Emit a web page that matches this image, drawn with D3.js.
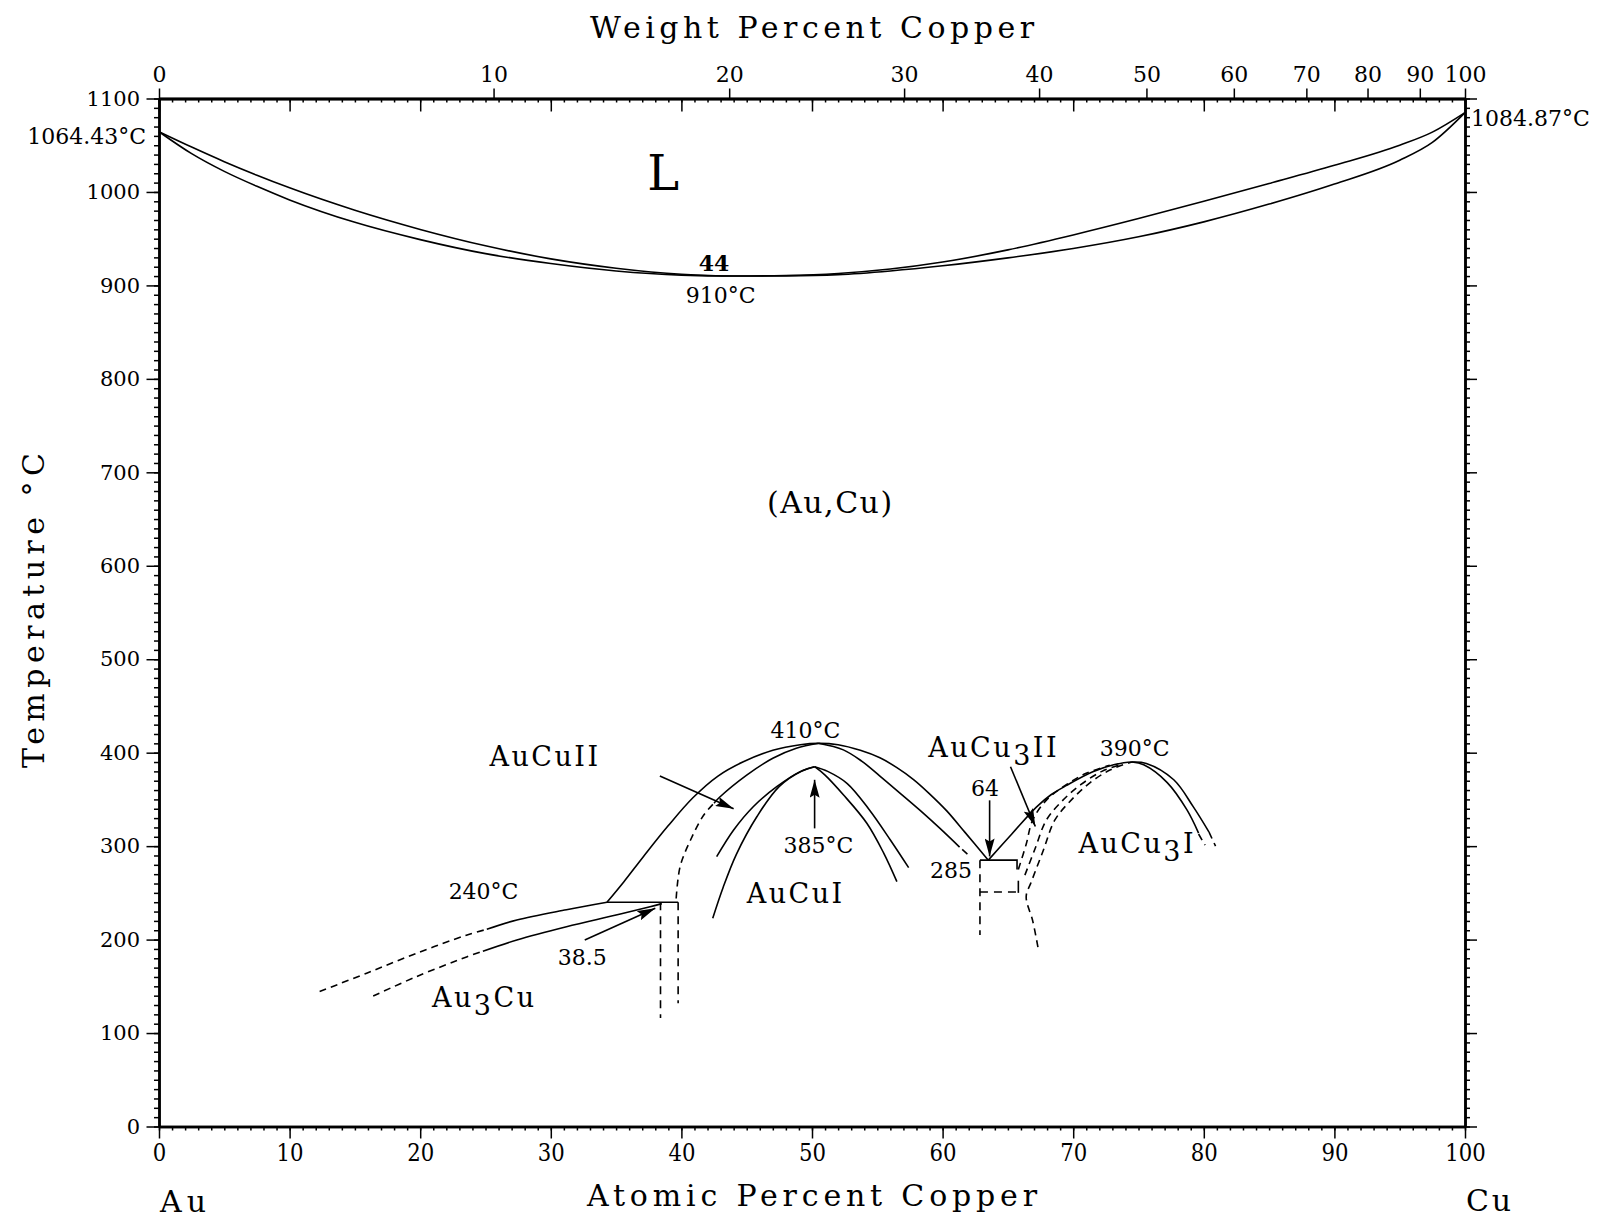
<!DOCTYPE html>
<html>
<head>
<meta charset="utf-8">
<script src="https://cdn.jsdelivr.net/npm/d3@7"></script>
<style>
  body { margin: 0; background: #fff; }
  svg { display: block; background: #fff; }
  text { font-family: "DejaVu Serif", serif; fill: #000; }
</style>
</head>
<body>
<div id="chart"></div>
<script>
// all points are [atomic % Cu, temperature °C]

// liquidus and solidus
const liquidus = [[0,1064.43],[2.5,1048],[5,1032.4],[7.5,1017.9],[10,1004.4],[15,980.4],[20,959.9],[25,942.4],[30,928.4],[35,918.4],[40,911.9],[44,910],[48,910.6],[52,912.8],[56,917.5],[60,925],[65,938],[70,954],[75,971.5],[80,990],[85,1009],[90,1028.5],[95,1050],[97.5,1064],[100,1084.87]];
const solidus = [[0,1064.43],[2.5,1041],[5,1022],[7.5,1006],[10,991.5],[15,967.5],[20,949],[25,934],[30,923.5],[35,915.5],[40,911],[44,910],[48,910.2],[52,911.5],[56,915.5],[60,921],[65,929.5],[70,939.5],[75,952],[80,968],[85,987],[90,1008.5],[95,1034],[97.5,1053],[100,1084.87]];

// Au3Cu
const au3cuUpperDash = [[12.3,144.5],[15.9,164],[19.7,185.3],[23.6,205],[25.1,211]];
const au3cuUpper = [[25.1,211],[27.4,221],[31.2,232],[34.3,240]];
const au3cuLowerDash = [[16.4,139.6],[19.7,160.3],[23.6,181.7],[24.8,187.5]];
const au3cuLower = [[24.8,187.5],[27.4,199.6],[31.2,213.8],[35.0,226.3],[37.6,235.2],[38.5,238.5]];
const line240 = [[34.3,240],[39.75,240]];
const au3cuLeftWall = [[38.4,240],[38.4,116]];
const au3cuRightWall = [[39.75,240],[39.75,132]];

// AuCu II / AuCu I
const aucuIIOuter = [[34.3,240],[35.6,262],[37.1,289],[39.0,322],[40.9,352],[42.8,375],[44.7,390],[47.0,402.5],[49.1,408.5],[50.5,410],[52.0,408.5],[53.7,402.5],[55.2,394.5],[56.5,384],[57.8,371],[59.0,356],[60.3,338],[61.7,315],[63.5,285]];
const aucuIIInnerLeftDash = [[39.6,244],[39.9,278],[40.7,306.6],[41.7,333],[42.5,346]];
const aucuIIInnerLeft = [[42.5,346],[42.9,352],[45.0,376],[47.0,394],[48.8,404.7],[50.5,410]];
const aucuIIInnerRight = [[50.5,410],[52.4,403],[53.8,391],[55.2,375],[56.8,356],[58.3,338],[59.8,319],[61.3,299]];
const aucuIIInnerRightDash = [[61.5,296.5],[62.1,289]];
const aucuILeftA = [[42.7,288.7],[44.0,317.3],[45.5,342.2],[47.3,363.6],[49.1,379.7],[50.2,385]];
const aucuILeftB = [[42.4,222.8],[43.2,256],[44.2,291],[45.8,332],[47.5,364],[49.3,381],[50.2,385]];
const aucuIRightOuter = [[50.2,385],[51.2,380],[52.7,367],[54.4,338.7],[56.0,306.6],[57.4,277]];
const aucuIRightInner = [[50.2,385],[51.0,376],[52.4,355],[54.2,324.5],[55.5,292.3],[56.5,262]];

// 285 °C box
const box285 = [[62.86,285],[65.7,285],[65.7,275]];
const box285LeftDash = [[62.86,285],[62.86,205]];
const box285MidDash = [[62.86,251],[65.8,251]];
const box285Tick = [[65.8,263],[65.8,250]];

// AuCu3
const aucu3Outer = [[63.5,285],[65.3,313],[67.2,342],[68.3,355],[69.5,365],[71.5,379.5],[73.1,387],[74.5,390],[75.6,388.5],[77.7,371],[79.2,342],[80.4,315]];
const aucu3OuterDash = [[80.4,315],[80.9,300]];
const aucu3Inner = [[74.5,390],[75.4,387],[77.2,368],[78.7,339],[79.6,314]];
const aucu3InnerDash = [[79.6,313],[80.1,301]];
const aucu3DashB = [[65.8,275],[66.4,302],[66.9,328],[68.0,350],[69.5,366],[71.0,378],[72.8,386.5]];
const aucu3DashC = [[66.3,269],[67.1,298],[67.95,328],[69.2,349],[70.6,366],[72.2,380],[73.8,388]];
const aucu3DashD = [[67.3,192],[66.9,220],[66.4,246],[66.8,262],[67.7,295],[68.6,328],[69.9,350],[71.3,368],[72.9,382],[74.5,390]];

// arrows: [from, to]
const arrows = [
  [[38.35,375],[44.0,340]],
  [[50.2,319],[50.2,371]],
  [[32.6,199.6],[38.0,233.5]],
  [[65.2,385],[67.1,321]],
  [[63.6,349],[63.6,289]]
];

// labels: text ("_" marks a subscript digit), at %, temperature, anchor
const phaseLabels = [
  ["L", 38.6, 1002, "middle"],
  ["(Au,Cu)", 51.4, 656.5, "middle"],
  ["AuCuII", 25.3, 385.8, "start"],
  ["AuCuI", 45.0, 239.2, "start"],
  ["Au_3Cu", 20.9, 128.2, "start"],
  ["AuCu_3II", 58.9, 395.7, "start"],
  ["AuCu_3I", 70.4, 292.3, "start"]
];
const valueLabels = [
  ["44", 42.5, 915.5, "middle"],
  ["910°C", 43.0, 881, "middle"],
  ["240°C", 24.85, 243.5, "middle"],
  ["38.5", 32.4, 172.8, "middle"],
  ["410°C", 49.5, 415.7, "middle"],
  ["385°C", 50.5, 292.7, "middle"],
  ["64", 63.25, 353.7, "middle"],
  ["285", 62.25, 266, "end"],
  ["390°C", 74.7, 396.5, "middle"]
];
const meltAu = 1064.43;
const meltCu = 1084.87;

// ticks
const atTicks = [0,10,20,30,40,50,60,70,80,90,100];
const wtTicks = [0,10,20,30,40,50,60,70,80,90,100];
const tempTicks = [0,100,200,300,400,500,600,700,800,900,1000,1100];

const size = { width: 1604, height: 1219 };
const margin = { left: 159, right: 139, top: 98.5, bottom: 92.5 };

const svg = d3.select("#chart").append("svg")
  .attr("width", size.width)
  .attr("height", size.height);

const x = d3.scaleLinear().domain([0, 100]).range([margin.left, size.width - margin.right]);
const y = d3.scaleLinear().domain([0, 1100]).range([size.height - margin.bottom, margin.top]);

// weight % -> atomic % Cu, for the top axis
const wtToAt = (w) => {
  const cu = w / 63.546, au = (100 - w) / 196.967;
  return 100 * cu / (cu + au);
};

const minorAt = d3.range(0, 101, 1);
const minorT = d3.range(0, 1101, 10);

const styleAxis = (g, fontSize) => {
  g.select(".domain").attr("stroke-width", 2.5);
  g.selectAll(".tick line").attr("stroke-width", 1.5);
  g.selectAll("text").style("font-size", fontSize + "px");
};

// bottom axis
svg.append("g").attr("transform", `translate(0,${y(0)})`)
  .call(d3.axisBottom(x).tickValues(minorAt).tickSize(4).tickSizeOuter(0).tickFormat(""))
  .call(styleAxis, 10);
const bottomAxis = svg.append("g").attr("transform", `translate(0,${y(0)})`)
  .call(d3.axisBottom(x).tickValues(atTicks).tickSize(12).tickSizeOuter(0).tickPadding(5))
  .call(styleAxis, 25);
bottomAxis.selectAll("text")
  .attr("textLength", (d) => String(d).length * 13.5)
  .attr("lengthAdjust", "spacingAndGlyphs");

// top axis: minor/medium atomic % ticks inside, weight % labels outside
svg.append("g").attr("transform", `translate(0,${y(1100)})`)
  .call(d3.axisBottom(x).tickValues(minorAt).tickSize(4).tickSizeOuter(0).tickFormat(""))
  .call(styleAxis, 10);
svg.append("g").attr("transform", `translate(0,${y(1100)})`)
  .call(d3.axisBottom(x).tickValues(atTicks).tickSize(13).tickSizeOuter(0).tickFormat(""))
  .call(styleAxis, 10);
svg.append("g").attr("transform", `translate(0,${y(1100)})`)
  .call(d3.axisTop(x).tickValues(wtTicks.map(wtToAt)).tickSize(10).tickSizeOuter(0).tickPadding(7)
    .tickFormat((d, i) => wtTicks[i]))
  .call(styleAxis, 22);

// left axis
svg.append("g").attr("transform", `translate(${x(0)},0)`)
  .call(d3.axisLeft(y).tickValues(minorT).tickSize(5).tickSizeOuter(0).tickFormat(""))
  .call(styleAxis, 10);
svg.append("g").attr("transform", `translate(${x(0)},0)`)
  .call(d3.axisLeft(y).tickValues(tempTicks).tickSize(12.5).tickSizeOuter(0).tickPadding(6.5)
    .tickFormat(d3.format("d")))
  .call(styleAxis, 21);

// right axis
svg.append("g").attr("transform", `translate(${x(100)},0)`)
  .call(d3.axisRight(y).tickValues(minorT).tickSize(5).tickSizeOuter(0).tickFormat(""))
  .call(styleAxis, 10);
svg.append("g").attr("transform", `translate(${x(100)},0)`)
  .call(d3.axisRight(y).tickValues(tempTicks).tickSize(12).tickSizeOuter(0).tickFormat(""))
  .call(styleAxis, 10);

// axis titles
svg.append("text").attr("x", 590).attr("y", 38)
  .attr("textLength", 444).attr("lengthAdjust", "spacing")
  .style("font-size", "30px").text("Weight Percent Copper");
svg.append("text").attr("x", 587).attr("y", 1206)
  .attr("textLength", 450).attr("lengthAdjust", "spacing")
  .style("font-size", "30px").text("Atomic Percent Copper");
svg.append("text").attr("transform", "translate(44,610.5) rotate(-90)")
  .attr("text-anchor", "middle")
  .attr("textLength", 315).attr("lengthAdjust", "spacing")
  .style("font-size", "30px").text("Temperature °C");
svg.append("text").attr("x", x(0) + 1).attr("y", 1212)
  .attr("textLength", 46).attr("lengthAdjust", "spacing")
  .style("font-size", "30px").text("Au");
svg.append("text").attr("x", x(100) + 1).attr("y", 1211)
  .attr("textLength", 45).attr("lengthAdjust", "spacing")
  .style("font-size", "30px").text("Cu");

// melting points
svg.append("text").attr("x", x(0) - 13).attr("y", y(meltAu) + 12)
  .attr("text-anchor", "end").style("font-size", "22px")
  .text(meltAu.toFixed(2) + "°C");
svg.append("text").attr("x", x(100) + 6).attr("y", y(meltCu) + 13)
  .style("font-size", "22px")
  .text(meltCu.toFixed(2) + "°C");

// phase boundaries
const curve = d3.line().x((d) => x(d[0])).y((d) => y(d[1])).curve(d3.curveCatmullRom.alpha(0.5));
const smooth = d3.line().x((d) => x(d[0])).y((d) => y(d[1])).curve(d3.curveMonotoneX);
const straight = d3.line().x((d) => x(d[0])).y((d) => y(d[1]));

const meltCurves = [liquidus, solidus];
const solidCurves = [au3cuUpper, au3cuLower, aucuIIOuter, aucuIIInnerLeft,
  aucuIIInnerRight, aucuILeftA, aucuILeftB, aucuIRightOuter, aucuIRightInner, aucu3Outer, aucu3Inner];
const dashedCurves = [au3cuUpperDash, au3cuLowerDash, aucuIIInnerLeftDash, aucuIIInnerRightDash,
  aucu3OuterDash, aucu3InnerDash, aucu3DashB, aucu3DashC, aucu3DashD];
const solidStraight = [line240, box285, box285Tick];
const dashedStraight = [au3cuLeftWall, au3cuRightWall, box285LeftDash, box285MidDash];

const lines = svg.append("g").attr("fill", "none").attr("stroke", "#000").attr("stroke-width", 1.6);
lines.selectAll(".meltCurve").data(meltCurves).join("path")
  .attr("class", "meltCurve").attr("d", smooth);
lines.selectAll(".solidCurve").data(solidCurves).join("path")
  .attr("class", "solidCurve").attr("d", curve);
lines.selectAll(".dashedCurve").data(dashedCurves).join("path")
  .attr("class", "dashedCurve").attr("stroke-dasharray", "7,5").attr("d", curve);
lines.selectAll(".solidStraight").data(solidStraight).join("path")
  .attr("class", "solidStraight").attr("d", straight);
lines.selectAll(".dashedStraight").data(dashedStraight).join("path")
  .attr("class", "dashedStraight").attr("stroke-dasharray", "8,6").attr("d", straight);

// arrows
svg.append("defs").append("marker")
  .attr("id", "head").attr("viewBox", "0 0 18 10").attr("refX", 18).attr("refY", 5)
  .attr("markerWidth", 18).attr("markerHeight", 10).attr("markerUnits", "userSpaceOnUse")
  .attr("orient", "auto")
  .append("path").attr("d", "M0,0L18,5L0,10L3,5Z").attr("fill", "#000");

lines.selectAll(".arrow").data(arrows).join("path")
  .attr("class", "arrow").attr("d", straight).attr("marker-end", "url(#head)");

// labels
const addLabel = (sel, d) => {
  const t = sel.append("text")
    .attr("x", x(d[1])).attr("y", y(d[2]))
    .attr("text-anchor", d[3]);
  const parts = d[0].split("_");
  t.append("tspan").text(parts[0]);
  if (parts.length > 1) {
    t.append("tspan").attr("dy", 8).text(parts[1][0]);
    t.append("tspan").attr("dy", -8).text(parts[1].slice(1));
  }
  return t;
};

const phaseG = svg.append("g");
phaseLabels.forEach((d) => {
  const t = addLabel(phaseG, d).style("font-size", "27px").style("letter-spacing", "2.5px");
  if (d[0] === "L") t.style("font-size", "48px").style("letter-spacing", "0px");
  if (d[0] === "(Au,Cu)") t.style("font-size", "30px").style("letter-spacing", "1.5px");
});
const valueG = svg.append("g");
valueLabels.forEach((d) => {
  const t = addLabel(valueG, d).style("font-size", "22px");
  if (d[0] === "44") t.style("font-weight", "bold");
});
</script>
</body>
</html>
